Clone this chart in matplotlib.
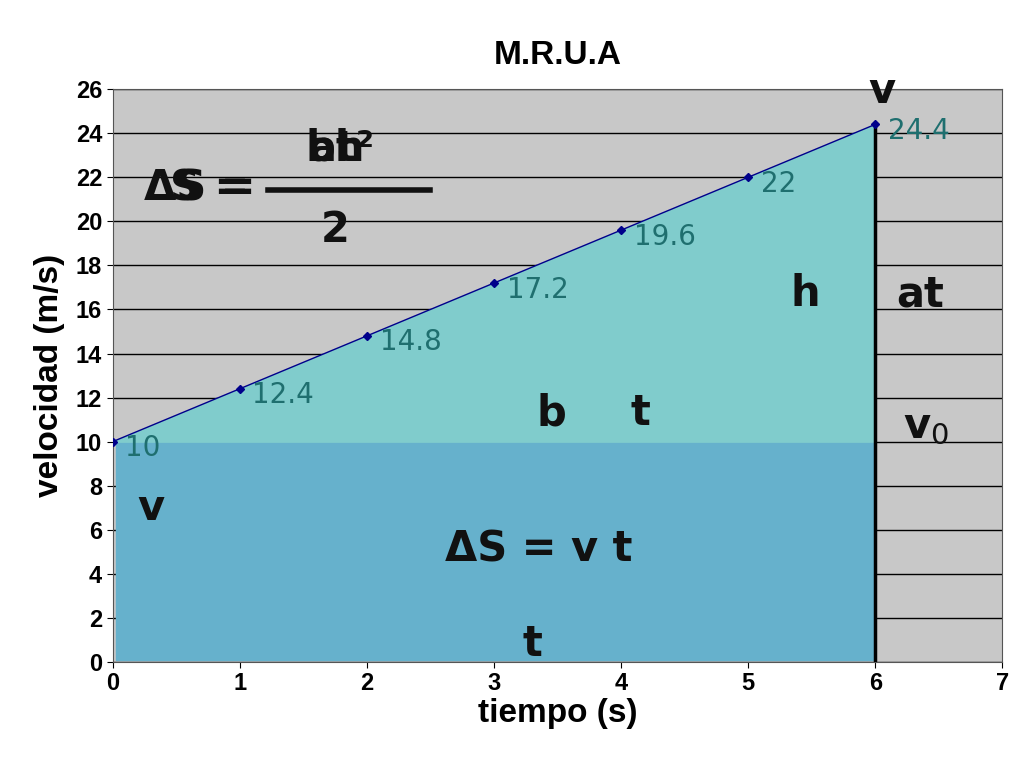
import numpy as np
import matplotlib
matplotlib.use("Agg")
import matplotlib.pyplot as plt

plt.rcParams["font.family"] = ["Liberation Sans Narrow", "Liberation Sans", "DejaVu Sans"]

tiempo = [0, 1, 2, 3, 4, 5, 6]
velocidad = [10, 12.4, 14.8, 17.2, 19.6, 22, 24.4]
v0 = 10
x_ticks = list(range(0, 8))
y_ticks = list(range(0, 28, 2))

fig = plt.figure(figsize=(10.24, 7.68), dpi=100)
ax = fig.add_axes([0.110, 0.138, 0.869, 0.746])
ax.set_facecolor("#c8c8c8")
ax.set_xlim(0, 7)
ax.set_ylim(0, 26)

# grid lines
for y in y_ticks:
    ax.axhline(y, color="black", lw=1, zorder=1)

# areas
ax.fill_between([0.03, 6], [0.1, 0.1], [v0, v0], color="#66b1cc", zorder=2)
ax.fill_between(tiempo, [v0] * len(tiempo), velocidad, color="#80cccc", zorder=2)
ax.plot([6, 6], [0, velocidad[-1]], color="black", lw=2.5, zorder=3)

# series
ax.plot(tiempo, velocidad, color="#00008b", lw=1, marker="D", ms=4, zorder=4)
for t, v in zip(tiempo, velocidad):
    ax.text(t + 0.1, v - 0.3, f"{v:g}", color="#1f6f6f", fontsize=20,
            va="center", ha="left", fontfamily="DejaVu Sans", zorder=5)

# annotations
big = dict(color="#111111", fontsize=30, fontweight="bold", fontfamily="DejaVu Sans", zorder=6)
ax.text(0.25, 21.5, "ΔS =", ha="left", va="center", **big)
ax.text(0.45, 21.5, "S =", ha="left", va="center", **big)
ax.text(1.75, 23.3, "bh", ha="center", va="center", **big)
ax.text(1.8, 23.3, "at²", ha="center", va="center", **big)
ax.plot([1.22, 2.5], [21.4, 21.4], color="#111111", lw=4, zorder=6)
ax.text(1.75, 19.6, "2", ha="center", va="center", **big)
ax.text(6.05, 25.9, "v", ha="center", va="center", **big)
ax.text(5.45, 16.7, "h", ha="center", va="center", **big)
ax.text(6.35, 16.7, "at", ha="center", va="center", **big)
ax.text(3.45, 11.3, "b", ha="center", va="center", **big)
ax.text(4.15, 11.3, "t", ha="center", va="center", **big)
ax.text(6.4, 10.7, "v$_0$", ha="center", va="center", **big)
ax.text(0.3, 7.0, "v", ha="center", va="center", **big)
ax.text(3.35, 5.1, "ΔS = v t", ha="center", va="center", **big)
ax.text(3.3, 0.8, "t", ha="center", va="center", **big)

ax.set_xticks(x_ticks)
ax.set_yticks(y_ticks)
ax.tick_params(labelsize=17, length=4)
for lbl in ax.get_xticklabels() + ax.get_yticklabels():
    lbl.set_fontweight("bold")
for s in ax.spines.values():
    s.set_color("#555555")

ax.set_title("M.R.U.A", fontsize=24, fontweight="bold", pad=18)
ax.set_xlabel("tiempo (s)", fontsize=24, fontweight="bold", labelpad=2)
ax.set_ylabel("velocidad (m/s)", fontsize=24, fontweight="bold", labelpad=8)

fig.savefig("out.png", dpi=100)
